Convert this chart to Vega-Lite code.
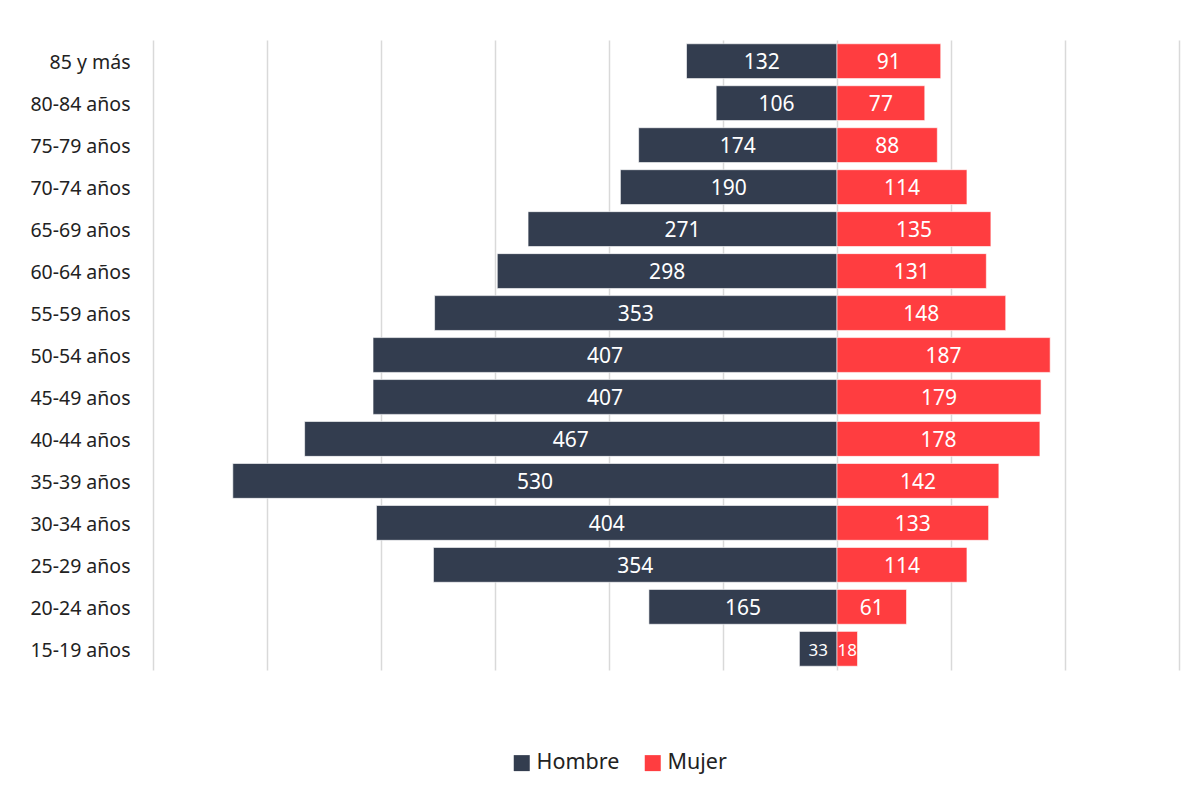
{
  "$schema": "https://vega.github.io/schema/vega-lite/v6.json",
  "width": 1026,
  "height": 630,
  "autosize": {"type": "none"},
  "padding": {"left": 153, "top": 40, "right": 22, "bottom": 125},
  "background": "white",
  "config": {
    "view": {"stroke": null},
    "font": "Noto Sans"
  },
  "data": {
    "values": [
      {"grupo": "85 y más", "sexo": "Hombre", "valor": 132},
      {"grupo": "85 y más", "sexo": "Mujer", "valor": 91},
      {"grupo": "80-84 años", "sexo": "Hombre", "valor": 106},
      {"grupo": "80-84 años", "sexo": "Mujer", "valor": 77},
      {"grupo": "75-79 años", "sexo": "Hombre", "valor": 174},
      {"grupo": "75-79 años", "sexo": "Mujer", "valor": 88},
      {"grupo": "70-74 años", "sexo": "Hombre", "valor": 190},
      {"grupo": "70-74 años", "sexo": "Mujer", "valor": 114},
      {"grupo": "65-69 años", "sexo": "Hombre", "valor": 271},
      {"grupo": "65-69 años", "sexo": "Mujer", "valor": 135},
      {"grupo": "60-64 años", "sexo": "Hombre", "valor": 298},
      {"grupo": "60-64 años", "sexo": "Mujer", "valor": 131},
      {"grupo": "55-59 años", "sexo": "Hombre", "valor": 353},
      {"grupo": "55-59 años", "sexo": "Mujer", "valor": 148},
      {"grupo": "50-54 años", "sexo": "Hombre", "valor": 407},
      {"grupo": "50-54 años", "sexo": "Mujer", "valor": 187},
      {"grupo": "45-49 años", "sexo": "Hombre", "valor": 407},
      {"grupo": "45-49 años", "sexo": "Mujer", "valor": 179},
      {"grupo": "40-44 años", "sexo": "Hombre", "valor": 467},
      {"grupo": "40-44 años", "sexo": "Mujer", "valor": 178},
      {"grupo": "35-39 años", "sexo": "Hombre", "valor": 530},
      {"grupo": "35-39 años", "sexo": "Mujer", "valor": 142},
      {"grupo": "30-34 años", "sexo": "Hombre", "valor": 404},
      {"grupo": "30-34 años", "sexo": "Mujer", "valor": 133},
      {"grupo": "25-29 años", "sexo": "Hombre", "valor": 354},
      {"grupo": "25-29 años", "sexo": "Mujer", "valor": 114},
      {"grupo": "20-24 años", "sexo": "Hombre", "valor": 165},
      {"grupo": "20-24 años", "sexo": "Mujer", "valor": 61},
      {"grupo": "15-19 años", "sexo": "Hombre", "valor": 33},
      {"grupo": "15-19 años", "sexo": "Mujer", "valor": 18}
    ]
  },
  "transform": [
    {"calculate": "datum.sexo === 'Hombre' ? -datum.valor : datum.valor", "as": "x"},
    {"calculate": "datum.x / 2", "as": "mid"},
    {"calculate": "datum.valor < 40 ? 17 : 21", "as": "fs"}
  ],
  "encoding": {
    "y": {
      "field": "grupo",
      "type": "nominal",
      "sort": null,
      "scale": {"paddingInner": 0.17, "paddingOuter": 0.09},
      "axis": {
        "title": null,
        "domain": false,
        "ticks": false,
        "labelPadding": 23,
        "labelOffset": 2,
        "labelFontSize": 19.5,
        "labelColor": "#222222",
        "labelFont": "Noto Sans"
      }
    }
  },
  "layer": [
    {
      "mark": {"type": "bar", "stroke": "#ffffff", "strokeWidth": 1, "strokeOpacity": 0.6},
      "encoding": {
        "x": {
          "field": "x",
          "type": "quantitative",
          "scale": {"domain": [-600, 300], "nice": false, "zero": false},
          "axis": {
            "title": null,
            "values": [-600, -500, -400, -300, -200, -100, 0, 100, 200, 300],
            "labels": false,
            "ticks": false,
            "domain": false,
            "grid": true,
            "gridColor": "#d9d9d9",
            "gridWidth": 1.5
          }
        },
        "color": {
          "field": "sexo",
          "type": "nominal",
          "scale": {"domain": ["Hombre", "Mujer"], "range": ["#333d4f", "#ff3d40"]},
          "legend": {
            "title": null,
            "orient": "none",
            "legendX": 358,
            "legendY": 712,
            "direction": "horizontal",
            "symbolType": "square",
            "symbolSize": 256,
            "symbolStrokeWidth": 0,
            "labelFontSize": 21.5,
            "labelColor": "#222222",
            "labelFont": "Noto Sans",
            "columnPadding": 22,
            "labelOffset": 4
          }
        }
      }
    },
    {
      "mark": {"type": "text", "color": "#ffffff", "baseline": "middle", "dy": 2, "font": "Noto Sans"},
      "encoding": {
        "x": {"field": "mid", "type": "quantitative"},
        "text": {"field": "valor", "type": "quantitative"},
        "size": {"field": "fs", "type": "quantitative", "scale": null}
      }
    }
  ]
}
